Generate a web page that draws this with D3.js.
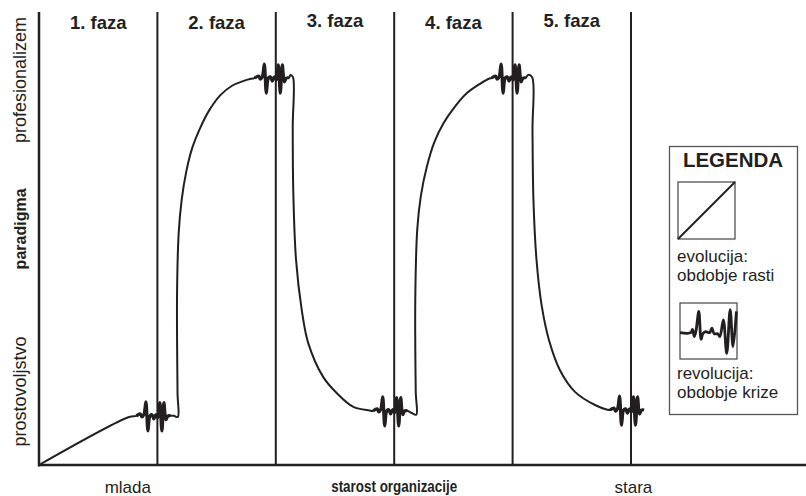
<!DOCTYPE html>
<html><head><meta charset="utf-8">
<script src="https://cdn.jsdelivr.net/npm/d3@7"></script>
<style>
body{margin:0;background:#fff}
svg{display:block}
text{font-family:"Liberation Sans",Arial,sans-serif;fill:#231f20}
</style>
</head><body>
<svg id="chart" width="806" height="496"></svg>
<script>
// ---------- data ----------
const phaseLabels = ["1. faza", "2. faza", "3. faza", "4. faza", "5. faza"];
const phaseBounds = [1, 2, 3, 4, 5];
const phaseLabelDy = [0, 0, -2, 0, -2];
const xTickLabels = ["mlada", "stara"];
const xTickValues = [0.75, 5.02];
const xTitle = "starost organizacije";
const yTickLabels = ["prostovoljstvo", "profesionalizem"];
const yTickValues = [1.9, 9.95];
const yTitle = "paradigma";
const yTitleValue = 6.1;

// evolution (growth) segments: [age in phases, paradigm level]
const evo1 = [[0, 0], [0.760, 1.24]];
const rise2 = [[1.140, 1.27], [1.172, 1.24], [1.170, 1.86], [1.166, 4.44], [1.180, 6.00], [1.205, 6.85],
  [1.245, 7.60], [1.295, 8.20], [1.360, 8.70], [1.435, 9.15], [1.530, 9.55], [1.630, 9.80],
  [1.723, 9.92], [1.790, 9.98]];
const fall3 = [[2.124, 10.08], [2.145, 10.02], [2.143, 8.73], [2.148, 7.03], [2.171, 5.30], [2.219, 4.01],
  [2.274, 3.15], [2.401, 2.27], [2.514, 1.86], [2.655, 1.50], [2.790, 1.41]];
const rise4 = [[3.150, 1.34], [3.186, 1.30], [3.182, 1.90], [3.178, 4.26], [3.195, 6.10], [3.225, 6.95],
  [3.275, 7.70], [3.340, 8.35], [3.420, 8.85], [3.510, 9.25], [3.610, 9.60], [3.725, 9.85], [3.800, 9.98]];
const fall5 = [[4.130, 10.08], [4.165, 10.02], [4.168, 8.66], [4.176, 6.85], [4.202, 5.30], [4.245, 4.13],
  [4.307, 3.23], [4.400, 2.45], [4.527, 1.89], [4.696, 1.55], [4.800, 1.43]];

// revolution (crisis) wiggles
const wiggleCenters = [1, 2, 3, 4, 5];
const wiggleLevels = [1.27, 10, 1.40, 10, 1.42];
const wiggleDx = [-0.177, -0.144, -0.131, -0.114, -0.097, -0.080, -0.063, -0.046, -0.030, -0.013,
  0.004, 0.021, 0.038, 0.055, 0.072, 0.089, 0.110];
const wiggleDy = [0, 0.05, -0.03, 0.03, 0.36, -0.39, 0, 0.03, -0.08, 0.03,
  -0.05, 0.34, -0.39, 0.34, -0.10, 0, 0];

// legend wiggle (relative to legend box, 0..1, y down)
const legendWiggleX = [0, 0.19, 0.22, 0.25, 0.28, 0.33, 0.37, 0.40, 0.45, 0.52, 0.56, 0.60, 0.66, 0.70, 0.76, 0.82, 0.88, 0.93, 0.99];
const legendWiggleY = [0.53, 0.53, 0.47, 0.60, 0.50, 0.15, 0.65, 0.55, 0.51, 0.53, 0.45, 0.55, 0.55, 0.60, 0.30, 0.90, 0.12, 0.78, 0.15];
const legendTitle = "LEGENDA";
const legendText1 = ["evolucija:", "obdobje rasti"];
const legendText2 = ["revolucija:", "obdobje krize"];

// ---------- drawing ----------
const ink = "#231f20";
const svg = d3.select("#chart");
const x = d3.scaleLinear().domain([0, 5]).range([39, 631]);
const y = d3.scaleLinear().domain([0, 10]).range([465, 78]);
const xEnd = x.invert(806);
const yTop = y.invert(12);

// phase lines
svg.append("g").selectAll("line").data(phaseBounds).join("line")
  .attr("x1", d => x(d)).attr("x2", d => x(d))
  .attr("y1", y(yTop)).attr("y2", y(0))
  .attr("stroke", ink).attr("stroke-width", 2);

// axes
svg.append("line").attr("x1", x(0)).attr("x2", x(0)).attr("y1", y(yTop)).attr("y2", y(0) + 1.5)
  .attr("stroke", ink).attr("stroke-width", 2.5);
svg.append("line").attr("x1", x(0)).attr("x2", x(xEnd)).attr("y1", y(0)).attr("y2", y(0))
  .attr("stroke", ink).attr("stroke-width", 2.5);

// wiggles
const wiggles = wiggleCenters.map((c, i) => wiggleDx.map((dx, j) => [c + dx, wiggleLevels[i] + wiggleDy[j]]));
const all = [].concat(evo1, wiggles[0], rise2, wiggles[1], fall3, wiggles[2], rise4, wiggles[3], fall5, wiggles[4]);

const line = d3.line().x(d => x(d[0])).y(d => y(d[1])).curve(d3.curveCatmullRom.alpha(0.5));
svg.append("path").attr("d", line(all)).attr("fill", "none").attr("stroke", ink)
  .attr("stroke-width", 2).attr("stroke-linejoin", "round");
wiggles.forEach(w => {
  svg.append("path").attr("d", line(w)).attr("fill", "none").attr("stroke", ink)
    .attr("stroke-width", 3.2).attr("stroke-linejoin", "round");
});

// phase labels
svg.append("g").selectAll("text").data(phaseLabels).join("text")
  .attr("x", (d, i) => x(i + 0.5)).attr("y", (d, i) => 29 + phaseLabelDy[i])
  .attr("text-anchor", "middle").attr("font-weight", "bold").attr("font-size", 18.5)
  .text(d => d);

// x labels
svg.append("g").selectAll("text").data(xTickLabels).join("text")
  .attr("x", (d, i) => x(xTickValues[i])).attr("y", 493)
  .attr("text-anchor", "middle").attr("font-size", 17).text(d => d);
svg.append("text").attr("x", x(3)).attr("y", 492).attr("text-anchor", "middle")
  .attr("font-weight", "bold").attr("font-size", 17)
  .attr("textLength", 126).attr("lengthAdjust", "spacingAndGlyphs").text(xTitle);

// y labels
svg.append("g").selectAll("text").data(yTickLabels).join("text")
  .attr("transform", (d, i) => `translate(26,${y(yTickValues[i])}) rotate(-90)`)
  .attr("text-anchor", "middle").attr("font-size", 18).text(d => d);
svg.append("text").attr("transform", `translate(26,${y(yTitleValue)}) rotate(-90)`)
  .attr("text-anchor", "middle").attr("font-weight", "bold").attr("font-size", 16).text(yTitle);

// legend
const lg = svg.append("g");
lg.append("rect").attr("x", 669.5).attr("y", 146.5).attr("width", 128).attr("height", 268)
  .attr("fill", "#fff").attr("stroke", "#555").attr("stroke-width", 1.3);
lg.append("text").attr("x", 733).attr("y", 167).attr("text-anchor", "middle")
  .attr("font-weight", "bold").attr("font-size", 20.5).text(legendTitle);
// evolution box
const b1 = {x: 678, y: 182, w: 57, h: 57};
lg.append("rect").attr("x", b1.x).attr("y", b1.y).attr("width", b1.w).attr("height", b1.h)
  .attr("fill", "none").attr("stroke", "#444").attr("stroke-width", 1.2);
lg.append("line").attr("x1", b1.x).attr("y1", b1.y + b1.h).attr("x2", b1.x + b1.w).attr("y2", b1.y)
  .attr("stroke", ink).attr("stroke-width", 2);
lg.selectAll(".t1").data(legendText1).join("text")
  .attr("x", 677).attr("y", (d, i) => 262 + i * 19).attr("font-size", 17).text(d => d);
// revolution box
const b2 = {x: 680, y: 303, w: 57, h: 56};
lg.append("rect").attr("x", b2.x).attr("y", b2.y).attr("width", b2.w).attr("height", b2.h)
  .attr("fill", "none").attr("stroke", "#444").attr("stroke-width", 1.2);
const lx = d3.scaleLinear().domain([0, 1]).range([b2.x, b2.x + b2.w]);
const ly = d3.scaleLinear().domain([0, 1]).range([b2.y, b2.y + b2.h]);
const lline = d3.line().x((d, i) => lx(d)).y((d, i) => ly(legendWiggleY[i])).curve(d3.curveCatmullRom.alpha(0.5));
lg.append("path").attr("d", lline(legendWiggleX)).attr("fill", "none").attr("stroke", ink)
  .attr("stroke-width", 2.8).attr("stroke-linejoin", "round");
lg.selectAll(".t2").data(legendText2).join("text")
  .attr("x", 677).attr("y", (d, i) => 379 + i * 19).attr("font-size", 17).text(d => d);
</script>
</body></html>
